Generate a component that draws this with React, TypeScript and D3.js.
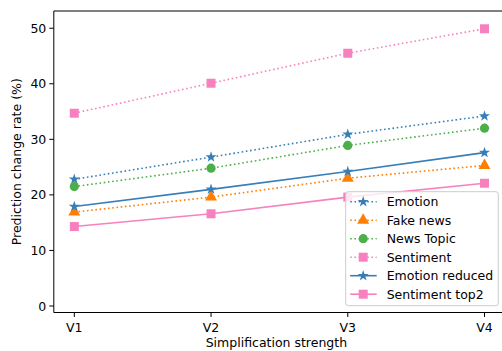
import React from "react";
import * as d3 from "d3";

const categories = ["V1", "V2", "V3", "V4"];
const seriesNames = ["Emotion", "Fake news", "News Topic", "Sentiment", "Emotion reduced", "Sentiment top2"];
const emotion = [22.8, 26.8, 30.9, 34.2];
const fakeNews = [16.9, 19.6, 23.0, 25.3];
const newsTopic = [21.5, 24.8, 28.9, 32.0];
const sentiment = [34.7, 40.1, 45.5, 49.9];
const emotionReduced = [17.9, 21.0, 24.2, 27.6];
const sentimentTop2 = [14.3, 16.6, 19.6, 22.1];
const yTicks = [0, 10, 20, 30, 40, 50];

const W = 502, H = 351;
const L = 53.8, R = 505, T = 11, B = 312.5;
const FONT = "DejaVu Sans, sans-serif";
const FS = 12.5;

type S = { name: string; values: number[]; color: string; marker: string; dotted: boolean };
const series: S[] = [
  { name: seriesNames[0], values: emotion, color: "#377eb8", marker: "star", dotted: true },
  { name: seriesNames[1], values: fakeNews, color: "#ff7f00", marker: "tri", dotted: true },
  { name: seriesNames[2], values: newsTopic, color: "#4daf4a", marker: "circle", dotted: true },
  { name: seriesNames[3], values: sentiment, color: "#f781bf", marker: "square", dotted: true },
  { name: seriesNames[4], values: emotionReduced, color: "#377eb8", marker: "star", dotted: false },
  { name: seriesNames[5], values: sentimentTop2, color: "#f781bf", marker: "square", dotted: false },
];

function Marker({ type, x, y, color }: { type: string; x: number; y: number; color: string }) {
  if (type === "circle") return <circle cx={x} cy={y} r={4.6} fill={color} />;
  if (type === "square") return <rect x={x - 4.5} y={y - 4.5} width={9} height={9} fill={color} />;
  if (type === "tri") {
    const sym = d3.symbol(d3.symbolTriangle, 62)();
    return <path d={sym as string} transform={`translate(${x},${y})`} fill={color} />;
  }
  const sym = d3.symbol(d3.symbolStar, 38)();
  return <path d={sym as string} transform={`translate(${x},${y})`} fill={color} />;
}

export default function App() {
  const x = d3.scalePoint<string>().domain(categories).range([L + 20.5, R - 20.5]);
  const y = d3.scaleLinear().domain([-1.17, 53.1]).range([B, T]);
  const line = d3.line<number>().x((_, i) => x(categories[i]) as number).y((d) => y(d));
  const lx = 345.7, ly = 191.7, lw = 152.6, lh = 114;
  return (
    <svg width={W} height={H} style={{ position: "absolute", left: 0, top: 0, fontFamily: FONT }}>
      <rect width={W} height={H} fill="white" />
      <defs>
        <clipPath id="clip"><rect x={L} y={T} width={R - L} height={B - T} /></clipPath>
      </defs>
      <g clipPath="url(#clip)">
        {series.map((s) => (
          <g key={s.name}>
            <path d={line(s.values) as string} fill="none" stroke={s.color} strokeWidth={1.6}
              strokeDasharray={s.dotted ? "1.6,2.64" : undefined} />
            {s.values.map((v, i) => (
              <Marker key={i} type={s.marker} x={x(categories[i]) as number} y={y(v)} color={s.color} />
            ))}
          </g>
        ))}
      </g>
      {/* spines */}
      <line x1={L} x2={L} y1={T} y2={B} stroke="black" strokeWidth={1} />
      <line x1={L} x2={R} y1={B} y2={B} stroke="black" strokeWidth={1} />
      <line x1={L} x2={R} y1={T} y2={T} stroke="black" strokeWidth={1} />
      {yTicks.map((t) => (
        <g key={t}>
          <line x1={L - 4.5} x2={L} y1={y(t)} y2={y(t)} stroke="black" strokeWidth={1} />
          <text x={L - 7.5} y={y(t)} dy="0.36em" textAnchor="end" fontSize={FS} fill="#000">{t}</text>
        </g>
      ))}
      {categories.map((c) => (
        <g key={c}>
          <line x1={x(c)} x2={x(c)} y1={B} y2={B + 4.5} stroke="black" strokeWidth={1} />
          <text x={x(c)} y={B + 19} textAnchor="middle" fontSize={FS} fill="#000">{c}</text>
        </g>
      ))}
      <text x={(L + R) / 2 - 3} y={347} textAnchor="middle" fontSize={FS} fill="#000">Simplification strength</text>
      <text transform={`translate(21,${(T + B) / 2}) rotate(-90)`} textAnchor="middle" fontSize={FS} fill="#000">Prediction change rate (%)</text>
      {/* legend */}
      <rect x={lx} y={ly} width={lw} height={lh} rx={2.5} fill="white" fillOpacity={0.8} stroke="#cccccc" strokeWidth={1} />
      {series.map((s, i) => {
        const ry = ly + 10 + i * 18.5;
        return (
          <g key={s.name}>
            <line x1={lx + 4.5} x2={lx + 31} y1={ry} y2={ry} stroke={s.color} strokeWidth={1.6}
              strokeDasharray={s.dotted ? "1.6,2.64" : undefined} />
            <Marker type={s.marker} x={lx + 17.5} y={ry} color={s.color} />
            <text x={lx + 41} y={ry} dy="0.36em" fontSize={FS} fill="#000">{s.name}</text>
          </g>
        );
      })}
    </svg>
  );
}
